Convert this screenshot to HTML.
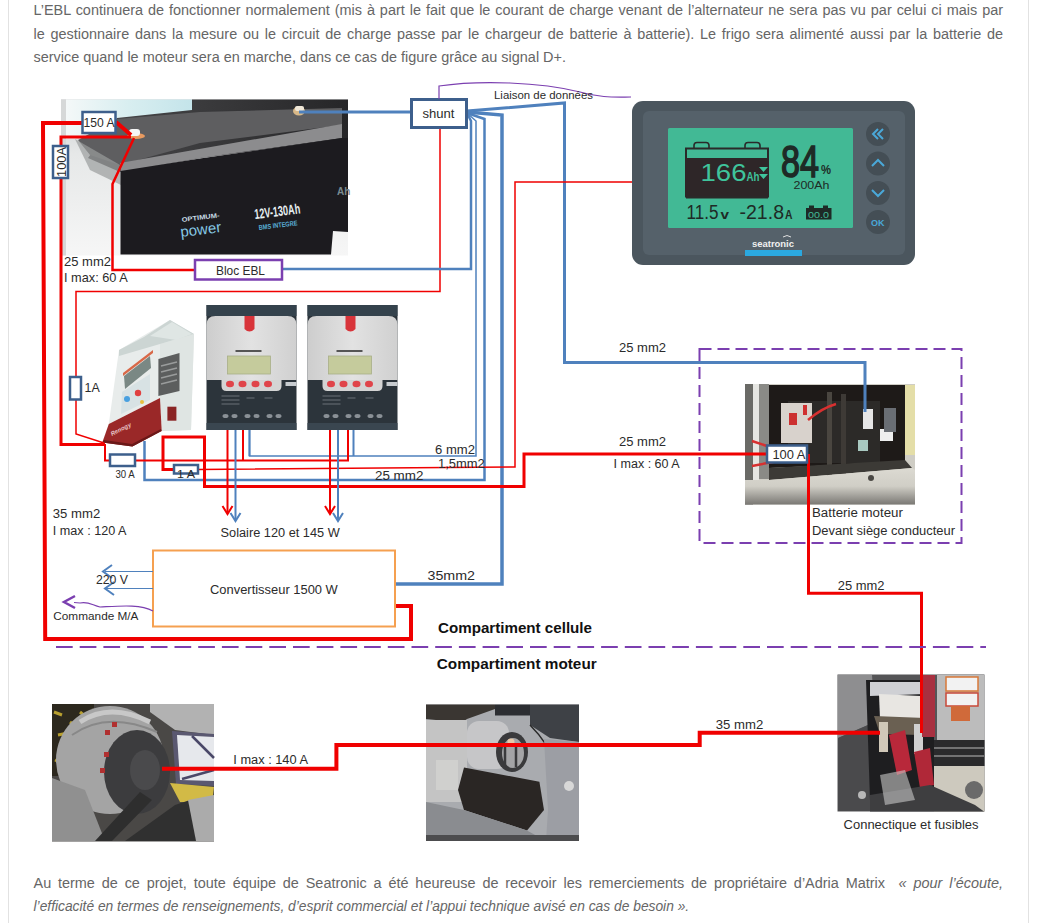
<!DOCTYPE html>
<html><head><meta charset="utf-8">
<style>
html,body{margin:0;padding:0;background:#fff;width:1056px;height:923px;overflow:hidden;}
body{position:relative;font-family:"Liberation Sans",sans-serif;}
.frame{position:absolute;left:8px;top:0;width:1019px;height:923px;border-left:1px solid #e2e2e2;border-right:1px solid #e2e2e2;}
.t{position:absolute;left:33.5px;width:969.5px;font-size:14.45px;color:#666666;white-space:nowrap;line-height:20px;}
.j{text-align:justify;text-align-last:justify;white-space:normal;}
svg{position:absolute;left:0;top:0;}
svg text{font-family:"Liberation Sans",sans-serif;}
</style></head><body>
<div class="frame"></div>
<div class="t j" style="top:0px">L’EBL continuera de fonctionner normalement (mis à part le fait que le courant de charge venant de l’alternateur ne sera pas vu par celui ci mais par</div>
<div class="t j" style="top:24px">le gestionnaire dans la mesure ou le circuit de charge passe par le chargeur de batterie à batterie). Le frigo sera alimenté aussi par la batterie de</div>
<div class="t" style="top:47px">service quand le moteur sera en marche, dans ce cas de figure grâce au signal D+.</div>
<svg width="1056" height="923" viewBox="0 0 1056 923">

<g id="battery">
<defs>
<linearGradient id="cyan" x1="0" y1="0" x2="1" y2="0"><stop offset="0" stop-color="#f4f8f8"/><stop offset="0.5" stop-color="#d8eef0"/><stop offset="1" stop-color="#c4e4ea"/></linearGradient>
<linearGradient id="leftbg" x1="0" y1="0" x2="0" y2="1"><stop offset="0" stop-color="#c9cccd"/><stop offset="0.35" stop-color="#e6e8e8"/><stop offset="1" stop-color="#f6f6f6"/></linearGradient>
<linearGradient id="topdark" x1="0" y1="0" x2="1" y2="0"><stop offset="0" stop-color="#4a4a4c"/><stop offset="1" stop-color="#262628"/></linearGradient>
</defs>
<rect x="61" y="99.5" width="287" height="156" fill="url(#leftbg)"/>
<rect x="61" y="99.5" width="5" height="156" fill="#d6d8d8"/>
<polygon points="66,99.5 192,99.5 192,112 117,118 75,139 66,139" fill="url(#cyan)"/>
<polygon points="192,99.5 348,99.5 348,138 200,158 120,172 88,158 117,118 192,110" fill="url(#topdark)"/>
<polygon points="78,140 117,119 200,112 342,108 342,125 200,143 120,165 90,155" fill="#5e5e60"/>
<polygon points="120,163 342,124 342,138 200,158 121,172" fill="#8c8c8e"/>
<polygon points="75,139 120,165 121,185 90,170" fill="#9a9c9c" opacity="0.7"/>
<polygon points="120.5,171 200,158.5 342,138 348,138 348,232 333,231 331,254.5 120.5,254.5" fill="#1c1b1f"/>
<ellipse cx="136" cy="136" rx="9" ry="3" fill="#e89a60"/>
<rect x="129" y="129" width="11" height="7" rx="3" fill="#f6f6f6"/>
<ellipse cx="299" cy="111" rx="6" ry="4.5" fill="#d8b888"/>
<rect x="295" y="106" width="9" height="5" rx="2" fill="#f0e8d8"/>
<text x="255" y="219" font-size="14" font-weight="bold" fill="#e8f0f2" textLength="46" lengthAdjust="spacingAndGlyphs" transform="rotate(-7 255 219)">12V-130Ah</text>
<text x="259" y="230" font-size="7" font-weight="bold" fill="#5ab0d8" textLength="39" lengthAdjust="spacingAndGlyphs" transform="rotate(-7 259 230)">BMS INTEGRE</text>
<text x="182" y="222" font-size="6.5" font-weight="bold" fill="#c8dce4" textLength="38" lengthAdjust="spacingAndGlyphs" transform="rotate(-7 182 222)">OPTIMUM-</text>
<text x="181" y="237" font-size="15" fill="#86c8e4" textLength="41" lengthAdjust="spacingAndGlyphs" transform="rotate(-7 181 237)">power</text>
<text x="337" y="195" font-size="10" font-weight="bold" fill="#7a8a90">Ah</text>
</g>


<g id="monitor">
<rect x="632" y="101" width="283" height="164" rx="11" fill="#4b565e"/>
<rect x="643" y="111" width="262" height="144" rx="6" fill="#55616a"/>
<rect x="668" y="128" width="185" height="100" rx="1.5" fill="#42b995"/>
<path d="M694 148.5 v-3 q0 -3 3 -3 h9 q3 0 3 3 v3 M745 148.5 v-3 q0 -3 3 -3 h9 q3 0 3 3 v3" fill="none" stroke="#2a2a2a" stroke-width="1.6"/>
<rect x="686" y="148.5" width="82" height="48" fill="none" stroke="#2a2a2a" stroke-width="2"/>
<rect x="685" y="158" width="84" height="38.5" fill="#2e2628"/>
<rect x="686" y="196.5" width="82" height="2" fill="#2a2a2a"/>
<text x="700.5" y="180.6" font-size="23.5" fill="#3fc49c" textLength="46" lengthAdjust="spacingAndGlyphs">166</text>
<text x="746.5" y="180.6" font-size="13" font-weight="bold" fill="#3fc49c" textLength="13" lengthAdjust="spacingAndGlyphs">Ah</text>
<path d="M759 167 h9 l-4.5 5 z M759 174 h9 l-4.5 5 z" fill="#3fc49c"/>
<text x="781" y="176.8" font-size="45" font-family="Liberation Mono" fill="#1e2a26" stroke="#1e2a26" stroke-width="1.6" textLength="38" lengthAdjust="spacingAndGlyphs">84</text>
<text x="821" y="174" font-size="13" font-weight="bold" fill="#1e2a26" textLength="10" lengthAdjust="spacingAndGlyphs">%</text>
<text x="793.5" y="189" font-size="11.5" font-family="Liberation Mono" fill="#1e2a26" textLength="36" lengthAdjust="spacingAndGlyphs">200Ah</text>
<text x="686.5" y="219.4" font-size="19.5" fill="#1e2a26" textLength="32" lengthAdjust="spacingAndGlyphs">11.5</text>
<text x="720.5" y="219.4" font-size="12" font-weight="bold" fill="#1e2a26" textLength="8.5" lengthAdjust="spacingAndGlyphs">v</text>
<text x="739.5" y="219.4" font-size="19.5" fill="#1e2a26" textLength="44.5" lengthAdjust="spacingAndGlyphs">-21.8</text>
<text x="785" y="219.4" font-size="12" font-weight="bold" fill="#1e2a26" textLength="7.5" lengthAdjust="spacingAndGlyphs">A</text>
<rect x="806" y="208" width="25.5" height="11.5" fill="#1e2a26"/>
<rect x="809" y="205.5" width="5" height="3" fill="#1e2a26"/>
<rect x="823" y="205.5" width="5" height="3" fill="#1e2a26"/>
<text x="808" y="217.5" font-size="9" font-family="Liberation Mono" fill="#42b995" textLength="21" lengthAdjust="spacingAndGlyphs">00.0</text>
<circle cx="878" cy="134" r="12" fill="#444e55"/>
<circle cx="878" cy="163.5" r="12" fill="#444e55"/>
<circle cx="878" cy="193" r="12" fill="#444e55"/>
<circle cx="878" cy="222" r="12" fill="#444e55"/>
<path d="M878 129 l-5 5 l5 5 M883 129 l-5 5 l5 5" stroke="#4aa8d8" stroke-width="2" fill="none"/>
<path d="M872 166 l6 -6 l6 6" stroke="#4aa8d8" stroke-width="2" fill="none"/>
<path d="M872 190 l6 6 l6 -6" stroke="#4aa8d8" stroke-width="2" fill="none"/>
<text x="871" y="226" font-size="9" font-weight="bold" fill="#4aa8d8">OK</text>
<text x="752" y="247" font-size="8.5" font-weight="bold" fill="#f0f0f0" textLength="42" lengthAdjust="spacingAndGlyphs">seatronic</text>
<path d="M783 237 q4 -3 8 0" stroke="#e0e0e0" stroke-width="1" fill="none"/>
<rect x="745" y="250" width="57" height="6" fill="#2aa8e0"/>
</g>


<g id="charger">
<polygon points="119,350 170,320 194,334 191,430 161.7,431 160,398 108.8,424" fill="#e8eceb"/>
<polygon points="160,344 194,334 191,430 161.7,431 160,398" fill="#dfe5e3"/>
<polygon points="119,350 144,337 170,320 194,334 160,344 119,356" fill="#ccd5d3"/>
<polygon points="150,336 172,322 192,334 176,340" fill="#dfe6e4"/>
<polygon points="124,376 150,356 151,368 125,389" fill="#7a8884"/>
<polygon points="123,373 153,350 153,353 123,376" fill="#d86848"/>
<polygon points="122,392 150,374 150,400 121,414" fill="#d8e2e4"/>
<circle cx="127" cy="399" r="3" fill="#48a0e0"/>
<circle cx="138" cy="393" r="3.2" fill="#e04040"/>
<circle cx="142" cy="402" r="2" fill="#e8c040"/>
<polygon points="158.4,359 179.5,353 179.5,391 158.4,396" fill="#5c5e5e"/>
<path d="M161 366 L177 362 M161 372 L177 368 M161 378 L177 374 M161 384 L177 380" stroke="#9a9c9c" stroke-width="1.5"/>
<rect x="167.4" y="406.7" width="9" height="14" fill="#8a2424"/>
<polygon points="108.8,424 160,398 161.7,431 132.4,446.6 102.3,442.5" fill="#9a2828"/>
<polygon points="104,440 132,444 161,429 161.5,431 132.4,446.6 102.3,442.5" fill="#6a1818"/>
<text x="112" y="436" font-size="6" font-style="italic" font-weight="bold" fill="#e8c8c8" transform="rotate(-27 112 436)">Renogy</text>
</g>

<defs><linearGradient id="mpptface" x1="0" y1="0" x2="1" y2="0"><stop offset="0" stop-color="#cdcdcd"/><stop offset="0.5" stop-color="#e2e2e2"/><stop offset="1" stop-color="#d0d0d0"/></linearGradient></defs>

<g>
<rect x="206.5" y="305" width="90" height="125" fill="#2c343b"/>
<rect x="206.5" y="305" width="90" height="11" fill="#34424c"/>
<path d="M206.5 325 q0 -9 9 -9 h72 q9 0 9 9 v55 h-90 z" fill="url(#mpptface)"/>
<path d="M221.5 380 h60 v6 q0 5 -5 5 h-50 q-5 0 -5 -5 z" fill="#d4d4d4"/>
<path d="M244.5 316 h10 v13 q-5 5 -10 0 z" fill="#d8343a"/>
<rect x="235.5" y="350" width="26" height="2" fill="#555"/>
<rect x="227.5" y="356" width="43" height="18" fill="#c5cb9c" stroke="#a8ae88" stroke-width="0.8"/>
<ellipse cx="230.0" cy="384" rx="4" ry="3.2" fill="#e0444a"/>
<ellipse cx="242.5" cy="384" rx="4" ry="3.2" fill="#e0444a"/>
<ellipse cx="255.5" cy="384" rx="4" ry="3.2" fill="#e0444a"/>
<ellipse cx="268.0" cy="384" rx="4" ry="3.2" fill="#e0444a"/>
<rect x="285.5" y="382" width="11" height="4" fill="#c8ccd0"/>
<path d="M221.5 396 h18 M221.5 400 h18 M221.5 404 h18 M246.5 398 h8 M264.5 398 h8" stroke="#6a7078" stroke-width="1"/>
<ellipse cx="225.5" cy="416" rx="3" ry="2" fill="#8a9096"/>
<ellipse cx="234.5" cy="416" rx="3" ry="2" fill="#8a9096"/>
<ellipse cx="247.5" cy="416" rx="3" ry="2" fill="#8a9096"/>
<ellipse cx="256.5" cy="416" rx="3" ry="2" fill="#8a9096"/>
<ellipse cx="269.5" cy="416" rx="3" ry="2" fill="#8a9096"/>
<ellipse cx="278.5" cy="416" rx="3" ry="2" fill="#8a9096"/>
<rect x="206.5" y="423" width="90" height="7" fill="#3a4650"/>
</g>

<g>
<rect x="307.5" y="305" width="90" height="125" fill="#2c343b"/>
<rect x="307.5" y="305" width="90" height="11" fill="#34424c"/>
<path d="M307.5 325 q0 -9 9 -9 h72 q9 0 9 9 v55 h-90 z" fill="url(#mpptface)"/>
<path d="M322.5 380 h60 v6 q0 5 -5 5 h-50 q-5 0 -5 -5 z" fill="#d4d4d4"/>
<path d="M345.5 316 h10 v13 q-5 5 -10 0 z" fill="#d8343a"/>
<rect x="336.5" y="350" width="26" height="2" fill="#555"/>
<rect x="328.5" y="356" width="43" height="18" fill="#c5cb9c" stroke="#a8ae88" stroke-width="0.8"/>
<ellipse cx="331.0" cy="384" rx="4" ry="3.2" fill="#e0444a"/>
<ellipse cx="343.5" cy="384" rx="4" ry="3.2" fill="#e0444a"/>
<ellipse cx="356.5" cy="384" rx="4" ry="3.2" fill="#e0444a"/>
<ellipse cx="369.0" cy="384" rx="4" ry="3.2" fill="#e0444a"/>
<rect x="386.5" y="382" width="11" height="4" fill="#c8ccd0"/>
<path d="M322.5 396 h18 M322.5 400 h18 M322.5 404 h18 M347.5 398 h8 M365.5 398 h8" stroke="#6a7078" stroke-width="1"/>
<ellipse cx="326.5" cy="416" rx="3" ry="2" fill="#8a9096"/>
<ellipse cx="335.5" cy="416" rx="3" ry="2" fill="#8a9096"/>
<ellipse cx="348.5" cy="416" rx="3" ry="2" fill="#8a9096"/>
<ellipse cx="357.5" cy="416" rx="3" ry="2" fill="#8a9096"/>
<ellipse cx="370.5" cy="416" rx="3" ry="2" fill="#8a9096"/>
<ellipse cx="379.5" cy="416" rx="3" ry="2" fill="#8a9096"/>
<rect x="307.5" y="423" width="90" height="7" fill="#3a4650"/>
</g>

<g id="batmot">
<defs><linearGradient id="bmbot" x1="0" y1="0" x2="0" y2="1"><stop offset="0" stop-color="#dcdad2"/><stop offset="0.5" stop-color="#d0cec6"/><stop offset="1" stop-color="#7a7874"/></linearGradient></defs>
<rect x="745" y="384" width="170" height="120.5" fill="#cfcdc5"/>
<rect x="745" y="384" width="8" height="120.5" fill="#6a6a66"/>
<rect x="753" y="384" width="6" height="100" fill="#e6e6e2"/>
<rect x="759" y="384" width="10" height="95" fill="#8a8a86"/>
<polygon points="769,385 905,385 905,462 769,468" fill="#1e1a18"/>
<rect x="905" y="385" width="10" height="70" fill="#e4dea8"/>
<rect x="788" y="401" width="92" height="62" fill="#2c2a28"/>
<rect x="827" y="392" width="5" height="88" fill="#4a4640"/>
<rect x="841" y="394" width="5" height="84" fill="#3e3a36"/>
<rect x="781" y="403" width="31" height="40" fill="#d8d2cc"/>
<rect x="789" y="413" width="8" height="12" fill="#cc3030"/>
<rect x="803" y="405" width="4" height="10" fill="#d03030"/>
<path d="M752 441 l18 6 M752 466 l26 -5 M808 420 q14 -12 28 -16" stroke="#d83030" stroke-width="2.5" fill="none"/>
<rect x="863" y="409" width="10" height="20" fill="#e6e6e6"/>
<rect x="880" y="429" width="13" height="12" fill="#eeeeee"/>
<rect x="884" y="408" width="12" height="24" fill="#6a6e74"/>
<rect x="858" y="440" width="10" height="11" fill="#a8c8c0"/>
<polygon points="769,468 905,460 912,468 769,480" fill="#3c3a36"/>
<polygon points="745,480 769,480 912,468 915,470 915,504.5 745,504.5" fill="url(#bmbot)"/>
<circle cx="871" cy="478" r="3" fill="#4a4844"/>
</g>


<g id="alt">
<rect x="52" y="704" width="162" height="137.5" fill="#4a4846"/>
<rect x="52" y="704" width="42" height="72" fill="#2c281e"/>
<path d="M54 712 l8 3 M58 735 l10 -2 M55 760 l9 4 M80 712 l6 5 M70 722 l5 4" stroke="#b8a030" stroke-width="3"/>
<polygon points="150,704 214,704 214,735 175,730 150,712" fill="#b2b2b2"/>
<polygon points="172,731 214,734 214,786 176,784" fill="#5a5870"/>
<polygon points="177,735 214,737 214,781 180,780" fill="#e6e8ec"/>
<path d="M192 736 L214 758 M182 779 L214 770" stroke="#4a4868" stroke-width="2.5"/>
<polygon points="170,783 214,787 212,803 180,802" fill="#d2ba46"/>
<ellipse cx="110" cy="760" rx="54" ry="54" fill="#a4a4a4"/>
<path d="M80 722 q30 -20 70 0" stroke="#c8c8c8" stroke-width="5" fill="none"/>
<path d="M72 735 q35 -25 85 -3" stroke="#888" stroke-width="2" fill="none"/>
<ellipse cx="137" cy="772" rx="33" ry="42" fill="#3c3c3e"/>
<ellipse cx="145" cy="770" rx="15" ry="20" fill="#4a4a4c"/>
<polygon points="52,778 85,790 105,841 52,841" fill="#909090"/>
<polygon points="95,841 140,792 152,800 112,841" fill="#2e2e2e"/>
<polygon points="125,841 175,805 190,800 200,841" fill="#303030"/>
<polygon points="188,800 214,795 214,841 196,841" fill="#ababab"/>
<rect x="105" y="730" width="5" height="5" fill="#b03030"/>
<rect x="112" y="722" width="5" height="5" fill="#b03030"/>
<rect x="104" y="752" width="5" height="5" fill="#b03030"/>
<rect x="100" y="768" width="5" height="5" fill="#b03030"/>
</g>
<g id="starter">
<rect x="426" y="704.5" width="153" height="136.5" fill="#a9abaf"/>
<polygon points="426,704.5 495,704.5 495,709 467,719 451,730 436,720 426,719" fill="#3a3632"/>
<rect x="495" y="704.5" width="35" height="11" fill="#2c2e32"/>
<polygon points="530,704.5 579,704.5 579,742 550,738 530,725" fill="#3e4146"/>
<rect x="426" y="720" width="41" height="82" fill="#c4c4c4"/>
<rect x="436" y="760" width="22" height="30" fill="#d0d0ce"/>
<rect x="467" y="721" width="42" height="48" rx="12" fill="#c6c6c8"/>
<ellipse cx="512" cy="752" rx="16" ry="20" fill="#3a3a3c"/>
<ellipse cx="513" cy="753" rx="11" ry="15" fill="#a4a4a6"/>
<path d="M505 745 v20 M516 745 v22" stroke="#3a3a3c" stroke-width="2.5"/>
<circle cx="511" cy="742" r="3.5" fill="#e8c8a8"/>
<path d="M530 725 q20 20 25 40" stroke="#2a2a2a" stroke-width="1.5" fill="none"/>
<polygon points="464,767.6 539.4,781.7 544,810 527,830.4 464,810 458,790" fill="#2a2624"/>
<polygon points="544,739 579,742 579,841 546,841 548,810" fill="#9c9ea4"/>
<circle cx="569" cy="786" r="5" fill="#d8d8d8"/>
<polygon points="426,802 464,810 527,830.4 546,841 426,841" fill="#8a8c90"/>
<rect x="426" y="835" width="153" height="6" fill="#4c4c4e"/>
</g>
<g id="conn">
<rect x="837.5" y="674.5" width="147" height="137" fill="#555557"/>
<polygon points="838,675 872,675 875,722 838,738" fill="#8e8e90"/>
<polygon points="838,738 875,722 870,811 838,811" fill="#4a4a4c"/>
<circle cx="862" cy="795" r="4" fill="#b8b8b8"/>
<polygon points="866,680 934,680 934,790 870,800" fill="#1e1e20"/>
<polygon points="870,682 925,682 925,694 870,696" fill="#cfd0d4"/>
<polygon points="879,694 921,696 920,718 880,719" fill="#e8e6e2"/>
<polygon points="874,716 925,718 921,735 880,734" fill="#6a6052"/>
<rect x="879" y="722" width="9" height="30" fill="#d0c8b8"/>
<rect x="914" y="724" width="9" height="30" fill="#d0d0d0"/>
<polygon points="889,735 905,730 912,770 897,775" fill="#b8283a"/>
<polygon points="914,752 930,748 934,785 920,788" fill="#b02838"/>
<rect x="922" y="675" width="13" height="62" fill="#a83040"/>
<rect x="937" y="675" width="47.5" height="65" fill="#bcbcbc"/>
<rect x="946" y="677" width="32" height="14" fill="#f2f2f2" stroke="#d87838" stroke-width="1.5"/>
<rect x="946" y="693" width="32" height="13" fill="#f2f2f2" stroke="#c84838" stroke-width="1.5"/>
<rect x="951" y="706" width="19" height="15" fill="#d06a3a"/>
<rect x="934" y="740" width="50.5" height="26" fill="#2a2a2c"/>
<path d="M934 748 H984 M934 756 H984" stroke="#8a8a8a" stroke-width="1.5"/>
<rect x="934" y="766" width="50.5" height="45.5" fill="#cdc9be"/>
<circle cx="974" cy="790" r="9" fill="#6a6a6a"/>
<polygon points="870,795 930,785 975,805 984,811.5 870,811.5" fill="#3e3e40"/>
<polygon points="880,775 905,770 915,800 885,805" fill="#c8c8c8" opacity="0.6"/>
</g>

<path d="M116 123 H43 L45.2 639 H411 V606 H395" stroke="#f00000" stroke-width="4" fill="none" stroke-linejoin="miter" />
<path d="M116 122 L131 135" stroke="#f00000" stroke-width="4" fill="none" stroke-linejoin="miter" />
<path d="M131 137 H61 V444.5 H105" stroke="#f00000" stroke-width="3" fill="none" stroke-linejoin="miter" />
<path d="M134 138 L112.5 184 V270 H195" stroke="#f00000" stroke-width="2.5" fill="none" stroke-linejoin="miter" />
<path d="M440 127 V291.5 H76 V434 L104 443" stroke="#f00000" stroke-width="1.5" fill="none" stroke-linejoin="miter" />
<path d="M299 112 H411" stroke="#4f81bd" stroke-width="3" fill="none" stroke-linejoin="miter" />
<path d="M282 269 H471 V121 L467 113" stroke="#4f81bd" stroke-width="2.5" fill="none" stroke-linejoin="miter" />
<path d="M467 113 L476 121 V456 H249.5 V430" stroke="#4f81bd" stroke-width="1.5" fill="none" stroke-linejoin="miter" />
<path d="M353.5 430 V456" stroke="#4f81bd" stroke-width="2" fill="none" stroke-linejoin="miter" />
<path d="M467 113 L484.5 119 V480 H144.5 V441" stroke="#4f81bd" stroke-width="2.5" fill="none" stroke-linejoin="miter" />
<path d="M467 112 L502 115 V584 H395" stroke="#4f81bd" stroke-width="3.5" fill="none" stroke-linejoin="miter" />
<path d="M467 111 L564.5 103 V362.5 H865 V412" stroke="#4f81bd" stroke-width="3" fill="none" stroke-linejoin="miter" />
<path d="M632 182 H515 V467 L198 469.5" stroke="#f00000" stroke-width="1.5" fill="none" stroke-linejoin="miter" />
<path d="M173.5 469.5 H163 V437 H204.5 V486.5 H524 V454 H766" stroke="#f00000" stroke-width="3" fill="none" stroke-linejoin="miter" />
<path d="M105 444 V460.5 H109" stroke="#f00000" stroke-width="2" fill="none" stroke-linejoin="miter" />
<path d="M135.5 460.5 H348 V430" stroke="#f00000" stroke-width="2" fill="none" stroke-linejoin="miter" />
<path d="M243 430 V460.5" stroke="#f00000" stroke-width="2" fill="none" stroke-linejoin="miter" />
<path d="M227.5 430 V513" stroke="#f00000" stroke-width="2" fill="none" stroke-linejoin="miter" />
<path d="M222.5 506 L227.5 514 L232.5 506" stroke="#f00000" stroke-width="2" fill="none" stroke-linejoin="miter" />
<path d="M235.5 430 V520" stroke="#4f81bd" stroke-width="2" fill="none" stroke-linejoin="miter" />
<path d="M230.5 513 L235.5 521 L240.5 513" stroke="#4f81bd" stroke-width="2" fill="none" stroke-linejoin="miter" />
<path d="M330 430 V513" stroke="#f00000" stroke-width="2" fill="none" stroke-linejoin="miter" />
<path d="M325 506 L330 514 L335 506" stroke="#f00000" stroke-width="2" fill="none" stroke-linejoin="miter" />
<path d="M338 430 V520" stroke="#4f81bd" stroke-width="2" fill="none" stroke-linejoin="miter" />
<path d="M333 513 L338 521 L343 513" stroke="#4f81bd" stroke-width="2" fill="none" stroke-linejoin="miter" />
<path d="M249.5 430 V456" stroke="#4f81bd" stroke-width="2" fill="none" stroke-linejoin="miter" />
<path d="M348 430 V461" stroke="#f00000" stroke-width="2" fill="none" stroke-linejoin="miter" />
<path d="M808.5 454 V593.3 H921.5 V733" stroke="#f00000" stroke-width="3" fill="none" stroke-linejoin="miter" />
<path d="M162 768.8 H336.4 V744.9 H699.7 V732.7 H880" stroke="#f00000" stroke-width="4" fill="none" stroke-linejoin="miter" />
<rect x="82.5" y="112" width="33" height="21" fill="#fff" stroke="#3d5f8c" stroke-width="2.5"/>
<rect x="53" y="146" width="15" height="32" fill="#fff" stroke="#3d5f8c" stroke-width="2.5"/>
<rect x="70" y="377" width="11" height="22.5" fill="#fff" stroke="#3d5f8c" stroke-width="2.5"/>
<rect x="110" y="454.5" width="25" height="11.5" fill="#fff" stroke="#3d5f8c" stroke-width="2.5"/>
<rect x="174" y="465" width="24" height="8.5" fill="#fff" stroke="#3d5f8c" stroke-width="2.5"/>
<rect x="767" y="445.5" width="40" height="17" fill="#fff" stroke="#3d5f8c" stroke-width="2.5"/>
<rect x="411.5" y="99.5" width="55" height="28" fill="#fff" stroke="#3d5f8c" stroke-width="3"/>
<rect x="195" y="260" width="87" height="19.5" fill="#fff" stroke="#7b3fb0" stroke-width="2.5"/>
<rect x="153" y="550.5" width="242" height="76" fill="#fff" stroke="#f5a050" stroke-width="2"/>
<path d="M153 571.5 H105" stroke="#4f81bd" stroke-width="1" fill="none" stroke-linejoin="miter" />
<path d="M153 588.5 H105" stroke="#4f81bd" stroke-width="1" fill="none" stroke-linejoin="miter" />
<path d="M112 565 L103 571.5 L112 578" stroke="#4f81bd" stroke-width="2" fill="none" stroke-linejoin="miter" />
<path d="M114 582 L105 588.5 L114 595" stroke="#4f81bd" stroke-width="2" fill="none" stroke-linejoin="miter" />
<path d="M153 611 C140 604 120 606 100 607 C92 605 88 601 80 603 L74 602.5" stroke="#7b3fb0" stroke-width="1.2" fill="none" stroke-linejoin="miter" />
<path d="M75 596 L64 602 L75 608" stroke="#7b3fb0" stroke-width="2.5" fill="none" stroke-linejoin="miter" />
<path d="M439 99 V86 C480 80 540 82 580 92 C600 98 615 97 631 97" stroke="#7b3fb0" stroke-width="1.2" fill="none" stroke-linejoin="miter" />
<path d="M56 647 H986" stroke="#7b3fb0" stroke-width="2.2" fill="none" stroke-linejoin="miter" stroke-dasharray="16.7 7"/>
<path d="M699.5 349 H961.5 V543 H699.5 Z" stroke="#7b3fb0" stroke-width="2" fill="none" stroke-linejoin="miter" stroke-dasharray="12 6"/>
<text x="83.5" y="127.2" font-size="13" font-weight="normal" fill="#2b2b2b" textLength="31.0" lengthAdjust="spacingAndGlyphs">150 A</text>
<text x="0" y="0" font-size="12.5" fill="#2b2b2b" textLength="30" lengthAdjust="spacingAndGlyphs" transform="translate(65.5 177) rotate(-90)">100A</text>
<text x="64.0" y="265.5" font-size="13" font-weight="normal" fill="#2b2b2b" textLength="47.0" lengthAdjust="spacingAndGlyphs">25 mm2</text>
<text x="64.0" y="282.2" font-size="13" font-weight="normal" fill="#2b2b2b" textLength="63.8" lengthAdjust="spacingAndGlyphs">I max: 60 A</text>
<text x="216.0" y="275.3" font-size="12.5" font-weight="normal" fill="#2b2b2b" textLength="49.0" lengthAdjust="spacingAndGlyphs">Bloc EBL</text>
<text x="422.5" y="118.2" font-size="13" fill="#2b2b2b" textLength="32" lengthAdjust="spacingAndGlyphs">shunt</text>
<text x="494" y="98.8" font-size="11.5" fill="#2b2b2b" textLength="99" lengthAdjust="spacingAndGlyphs">Liaison de données</text>
<text x="84.6" y="391.5" font-size="12" font-weight="normal" fill="#2b2b2b" textLength="15.2" lengthAdjust="spacingAndGlyphs">1A</text>
<text x="115.4" y="477.8" font-size="11" font-weight="normal" fill="#2b2b2b" textLength="19.3" lengthAdjust="spacingAndGlyphs">30 A</text>
<text x="177.0" y="478.4" font-size="11" font-weight="normal" fill="#2b2b2b" textLength="18.0" lengthAdjust="spacingAndGlyphs">1 A</text>
<text x="435.0" y="453.9" font-size="12" font-weight="normal" fill="#2b2b2b" textLength="40.0" lengthAdjust="spacingAndGlyphs">6 mm2</text>
<text x="438.0" y="467.8" font-size="12" font-weight="normal" fill="#2b2b2b" textLength="46.6" lengthAdjust="spacingAndGlyphs">1,5mm2</text>
<text x="375.0" y="480.3" font-size="12" font-weight="normal" fill="#2b2b2b" textLength="48.4" lengthAdjust="spacingAndGlyphs">25 mm2</text>
<text x="220.6" y="536.5" font-size="12.5" font-weight="normal" fill="#2b2b2b" textLength="119.1" lengthAdjust="spacingAndGlyphs">Solaire 120 et 145 W</text>
<text x="52.8" y="518.2" font-size="12.5" font-weight="normal" fill="#2b2b2b" textLength="47.4" lengthAdjust="spacingAndGlyphs">35 mm2</text>
<text x="52.8" y="534.9" font-size="12.5" font-weight="normal" fill="#2b2b2b" textLength="73.7" lengthAdjust="spacingAndGlyphs">I max : 120 A</text>
<text x="95.9" y="584.3" font-size="12.5" font-weight="normal" fill="#2b2b2b" textLength="32.1" lengthAdjust="spacingAndGlyphs">220 V</text>
<text x="53.3" y="619.9" font-size="11.5" font-weight="normal" fill="#2b2b2b" textLength="85.2" lengthAdjust="spacingAndGlyphs">Commande M/A</text>
<text x="210.0" y="593.7" font-size="12.5" font-weight="normal" fill="#2b2b2b" textLength="127.8" lengthAdjust="spacingAndGlyphs">Convertisseur 1500 W</text>
<text x="427.5" y="580.1" font-size="12" font-weight="normal" fill="#2b2b2b" textLength="47.5" lengthAdjust="spacingAndGlyphs">35mm2</text>
<text x="438.0" y="632.9" font-size="15" font-weight="bold" fill="#111" textLength="154.0" lengthAdjust="spacingAndGlyphs">Compartiment cellule</text>
<text x="436.8" y="668.7" font-size="15" font-weight="bold" fill="#111" textLength="159.9" lengthAdjust="spacingAndGlyphs">Compartiment moteur</text>
<text x="619.0" y="351.7" font-size="12" font-weight="normal" fill="#2b2b2b" textLength="47.0" lengthAdjust="spacingAndGlyphs">25 mm2</text>
<text x="619.0" y="445.7" font-size="12" font-weight="normal" fill="#2b2b2b" textLength="47.0" lengthAdjust="spacingAndGlyphs">25 mm2</text>
<text x="613.5" y="467.5" font-size="12" font-weight="normal" fill="#2b2b2b" textLength="66.2" lengthAdjust="spacingAndGlyphs">I max : 60 A</text>
<text x="772.4" y="459.3" font-size="12" font-weight="normal" fill="#2b2b2b" textLength="33.0" lengthAdjust="spacingAndGlyphs">100 A</text>
<text x="812.0" y="516.9" font-size="12" font-weight="normal" fill="#2b2b2b" textLength="90.9" lengthAdjust="spacingAndGlyphs">Batterie moteur</text>
<text x="812.0" y="534.8" font-size="12" font-weight="normal" fill="#2b2b2b" textLength="143.0" lengthAdjust="spacingAndGlyphs">Devant siège conducteur</text>
<text x="837.7" y="589.6" font-size="12" font-weight="normal" fill="#2b2b2b" textLength="46.8" lengthAdjust="spacingAndGlyphs">25 mm2</text>
<text x="233.3" y="763.6" font-size="12" font-weight="normal" fill="#2b2b2b" textLength="74.7" lengthAdjust="spacingAndGlyphs">I max : 140 A</text>
<text x="715.8" y="729.3" font-size="12" font-weight="normal" fill="#2b2b2b" textLength="47.5" lengthAdjust="spacingAndGlyphs">35 mm2</text>
<text x="843.6" y="828.8" font-size="12" font-weight="normal" fill="#2b2b2b" textLength="134.9" lengthAdjust="spacingAndGlyphs">Connectique et fusibles</text>
</svg>
<div class="t j" style="top:873px">Au terme de ce projet, toute équipe de Seatronic a été heureuse de recevoir les remerciements de propriétaire d’Adria Matrix &nbsp;<i>« pour l’écoute,</i></div>
<div class="t" style="top:896.5px;font-style:italic;font-size:13.8px">l’efficacité en termes de renseignements, d’esprit commercial et l’appui technique avisé en cas de besoin ».</div>
</body></html>
